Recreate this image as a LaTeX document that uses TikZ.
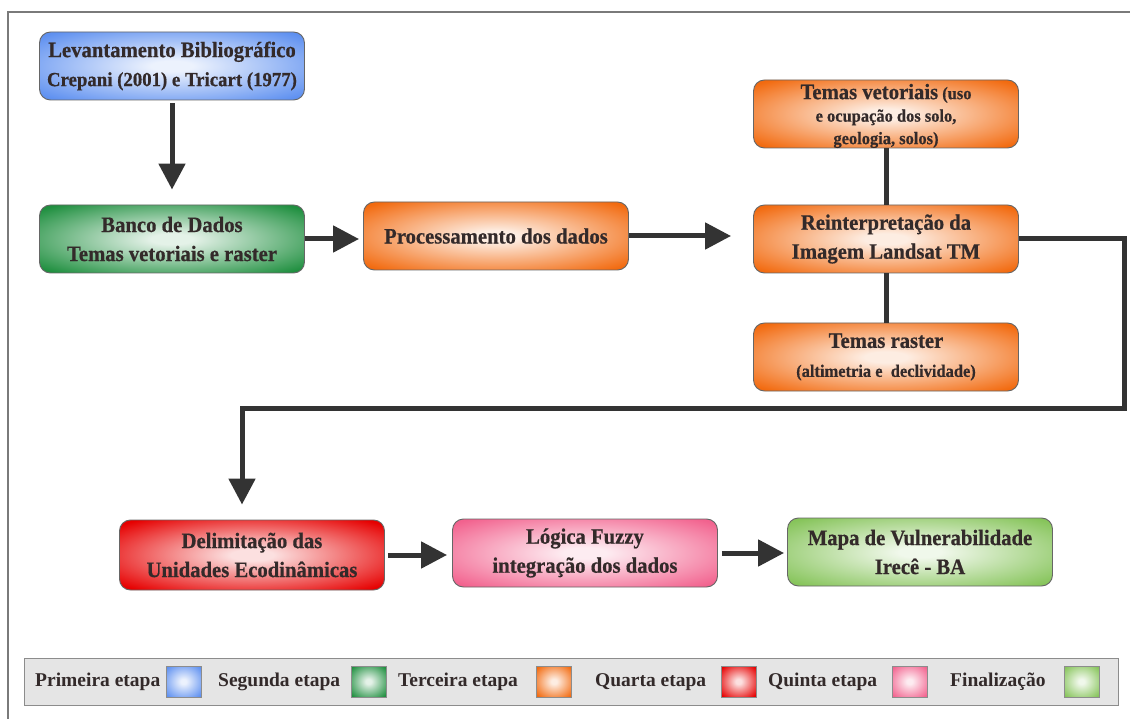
\documentclass[tikz,border=0pt]{standalone}
\usepackage{fontspec}
\setmainfont{Liberation Serif}
\newfontfamily\stagefont[FakeStretch=0.94, BoldFeatures={FakeBold=0.6}]{Liberation Serif}
\usepackage{xcolor}
\usepackage{tikz}
\usetikzlibrary{arrows.meta,positioning,calc}

\definecolor{txtgray}{HTML}{332A2A}
\definecolor{linegray}{HTML}{333333}
\definecolor{framegray}{HTML}{7A7A7A}
\definecolor{etapaA}{HTML}{5E90F0}
\definecolor{etapaB}{HTML}{1F8F3F}
\definecolor{etapaC}{HTML}{F26A0F}
\definecolor{etapaD}{HTML}{E60000}
\definecolor{etapaE}{HTML}{F2628E}
\definecolor{etapaF}{HTML}{86C45A}
\colorlet{glowin}{white}
\colorlet{glowout}{black}
\pgfdeclareradialshading[glowin,glowout]{glow}{\pgfpoint{0bp}{0bp}}{color(0bp)=(glowin); color(4bp)=(glowin); color(33bp)=(glowout); color(50bp)=(glowout)}

\newcommand{\smalltxt}{\fontsize{17.5}{22.5}\selectfont}
\newcommand{\bigtxt}{\fontsize{22}{29}\selectfont}

\begin{document}
\begin{tikzpicture}[x=1pt, y=-1pt, >={Triangle[length=26pt,width=26pt]},
  stage/.style={rounded corners=11pt, draw=black!60, line width=0.9pt, minimum width=265pt, minimum height=68pt, inner sep=2pt, align=center, text=txtgray, font=\stagefont\bfseries\bigtxt},
  glow/.style={/utils/exec={\colorlet{glowout}{#1}\colorlet{glowin}{white!88!#1}}, shading=glow, shade},
  flow/.style={->, draw=linegray, line width=5pt},
  link/.style={draw=linegray, line width=5pt},
  swatch/.style={draw=black!45, line width=0.8pt, minimum width=35pt, minimum height=31pt, inner sep=0pt},
  keytxt/.style={anchor=west, inner sep=0pt, text=txtgray, font=\bfseries\fontsize{19.5}{22}\selectfont}]
\useasboundingbox (0,0) rectangle (1130,719);
\fill[white] (0,0) rectangle (1130,719);
\draw[framegray, line width=1.5pt] (8,719) -- (8,12) -- (1130,12);

% etapas
\node[stage, glow=etapaA] (lev) at (172,66) {Levantamento Bibliográfico\\{\fontsize{20}{24}\selectfont Crepani (2001) e Tricart (1977)}};
\node[stage, glow=etapaB] (banco) at (172,239) {Banco de Dados\\Temas vetoriais e raster};
\node[stage, glow=etapaC] (proc) at (496,236) {Processamento dos dados};
\node[stage, glow=etapaC] (reint) at (886,239) {Reinterpretação da\\Imagem Landsat TM};
\node[stage, glow=etapaC, font=\stagefont\bfseries\smalltxt, inner sep=0pt] (temvet) at (886,114) {{\bigtxt Temas vetoriais} (uso\\e ocupação dos solo,\\\smash{geologia, solos)}};
\node[stage, glow=etapaC] (temras) at (886,357) {Temas raster\\{\smalltxt (altimetria e\ \ declividade)}};
\node[stage, glow=etapaD, minimum height=70pt] (delim) at (252,555) {Delimitação das\\Unidades Ecodinâmicas};
\node[stage, glow=etapaE] (fuzzy) at (585,553) {Lógica Fuzzy\\integração dos dados};
\node[stage, glow=etapaF] (mapa) at (920,552) {Mapa de Vulnerabilidade\\Irecê - BA};

% ligacoes
\coordinate (turn) at (1124,408);
\draw[flow, shorten <=3pt, shorten >=15pt] (lev) -- (banco);
\draw[flow, shorten >=4pt] (banco.east) -- (banco.east -| proc.west);
\draw[flow, shorten >=22pt] (proc.east) -- (proc.east -| reint.west);
\draw[link] (temvet) -- (reint);
\draw[link] (reint) -- (temras);
\draw[flow, shorten >=15pt] (reint.east) -| (turn) -| ([xshift=-10pt]delim.north);
\draw[flow, shorten <=3pt, shorten >=5pt] (delim.east) -- (delim.east -| fuzzy.west);
\draw[flow, shorten <=4pt, shorten >=3pt] (fuzzy.east) -- (fuzzy.east -| mapa.west);

% legenda
\node[draw=black!45, fill=black!10, line width=0.9pt, minimum width=1094pt, minimum height=47pt, inner sep=0pt] (legend) at (571,681.5) {};
\foreach \lbl/\tx/\sx/\col [count=\i] in {Primeira etapa/35/183.5/etapaA, Segunda etapa/218/368.5/etapaB, Terceira etapa/398/554/etapaC, Quarta etapa/595/738.5/etapaD, Quinta etapa/768/909.5/etapaE, Finalização/950/1081.5/etapaF}{
  \node[keytxt] (keytxt\i) at (\tx,682) {\lbl};
  \node[swatch, glow=\col] (keybox\i) at (\sx,681.5) {};
}
\end{tikzpicture}
\end{document}
